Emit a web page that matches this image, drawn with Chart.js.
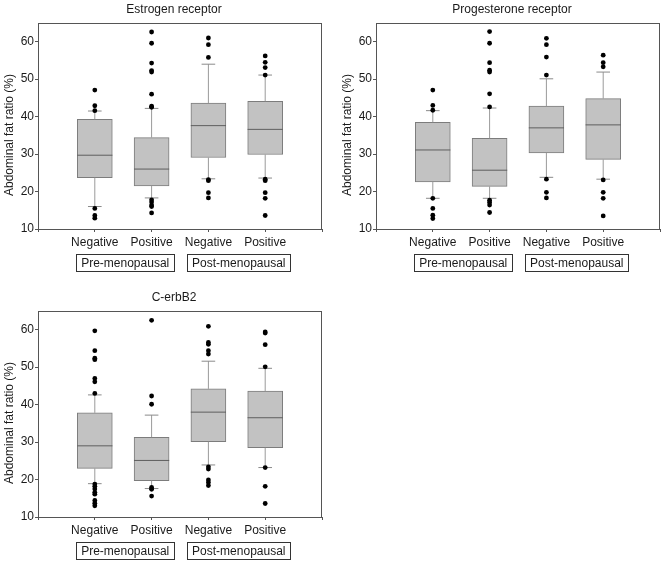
<!DOCTYPE html>
<html>
<head>
<meta charset="utf-8">
<script src="https://cdn.jsdelivr.net/npm/chart.js@4"></script>
<style>
  body { margin: 0; background: #fff; width: 671px; height: 564px; position: relative; overflow: hidden; }
  .panel { position: absolute; width: 335px; height: 280px; }
</style>
</head>
<body>
<div class="panel" style="left:0;top:0"><canvas id="c1"></canvas></div>
<div class="panel" style="left:338px;top:0"><canvas id="c2"></canvas></div>
<div class="panel" style="left:0;top:288px"><canvas id="c3"></canvas></div>
<script>
// groups along the x axis
const groupLabels = ['Negative', 'Positive', 'Negative', 'Positive'];
const statusLabels = ['Pre-menopausal', 'Post-menopausal'];
const yTicks = [10, 20, 30, 40, 50, 60];
const yAxisTitle = 'Abdominal fat ratio (%)';

// Estrogen receptor: [lower whisker, q1, median, q3, upper whisker] per group
const erTitle = 'Estrogen receptor';
const erStats = [
  [16.0, 23.7, 29.7, 39.3, 41.5],
  [18.3, 21.5, 26.0, 34.4, 42.2],
  [23.4, 29.1, 37.6, 43.6, 54.0],
  [23.6, 29.9, 36.6, 44.1, 51.1]
];
const erOutliers = [
  [47.1, 42.9, 41.6, 15.5, 13.6, 12.9],
  [62.6, 59.6, 54.3, 52.3, 51.9, 46.0, 42.8, 42.5, 17.8, 17.2, 16.4, 16.0, 14.3],
  [61.0, 59.2, 55.8, 23.2, 22.9, 19.7, 18.3],
  [56.2, 54.5, 53.1, 51.1, 23.3, 22.9, 19.7, 18.2, 13.6]
];

// Progesterone receptor
const prTitle = 'Progesterone receptor';
const prStats = [
  [18.2, 22.6, 31.1, 38.5, 41.6],
  [18.2, 21.4, 25.7, 34.2, 42.3],
  [23.8, 30.3, 37.0, 42.8, 50.1],
  [23.3, 28.6, 37.8, 44.8, 51.9]
];
const prOutliers = [
  [47.1, 43.0, 41.7, 18.2, 15.5, 13.7, 12.8],
  [62.7, 59.6, 54.4, 52.4, 51.9, 46.1, 42.6, 17.7, 17.1, 16.4, 14.4],
  [60.9, 59.2, 55.9, 51.1, 23.3, 19.8, 18.3],
  [56.4, 54.4, 53.3, 23.1, 19.8, 18.2, 13.5]
];

// C-erbB2
const cbTitle = 'C-erbB2';
const cbStats = [
  [18.9, 23.0, 29.0, 37.8, 42.6],
  [17.6, 19.7, 25.1, 31.3, 37.2],
  [23.9, 30.1, 38.0, 44.2, 51.6],
  [23.2, 28.5, 36.5, 43.6, 49.7]
];
const cbOutliers = [
  [59.7, 54.4, 52.4, 52.0, 47.0, 46.1, 43.0, 18.8, 18.2, 17.5, 16.6, 16.1, 14.4, 13.7, 13.0],
  [62.5, 42.3, 40.1, 17.9, 17.4, 15.6],
  [60.9, 56.6, 56.1, 54.4, 53.5, 23.4, 22.8, 19.9, 19.2, 18.4],
  [59.4, 59.1, 56.0, 50.1, 23.2, 18.2, 13.6]
];

const FONT = '"Liberation Sans", Arial, sans-serif';
const TEXT = '#1a1a1a';

// frame, y title and the boxed menopausal status labels
const decor = {
  id: 'decor',
  afterDraw(chart, args, opts) {
    const { ctx, chartArea: a, scales } = chart;
    ctx.save();
    ctx.strokeStyle = '#555';
    ctx.lineWidth = 1;
    ctx.strokeRect(a.left + 0.5, a.top + 0.5, a.right - a.left - 1, a.bottom - a.top);

    ctx.fillStyle = TEXT;
    ctx.font = '12px ' + FONT;
    ctx.textAlign = 'center';
    ctx.textBaseline = 'middle';
    ctx.fillText(opts.title, (a.left + a.right) / 2 - 6, 10);

    ctx.save();
    ctx.translate(10, (a.top + a.bottom) / 2 + 9);
    ctx.rotate(-Math.PI / 2);
    ctx.fillText(yAxisTitle, 0, 0);
    ctx.restore();

    statusLabels.forEach((lab, i) => {
      const cx = scales.x.getPixelForValue(1.5 + 2 * i) + 2;
      const w = ctx.measureText(lab).width + 10;
      const cy = a.bottom + 34;
      ctx.strokeStyle = '#333';
      ctx.strokeRect(Math.round(cx - w / 2) + 0.5, cy - 8.5, Math.round(w), 17);
      ctx.fillText(lab, cx, cy + 0.5);
    });
    ctx.restore();
  }
};

function makeChart(id, title, stats, outliers) {
  const halfBox = 0.31, halfCap = 0.12;
  const boxes = stats.map((s, i) => ({ x: i + 1, y: [s[1], s[3]] }));
  const medians = [], stems = [], caps = [], points = [];
  stats.forEach((s, i) => {
    const x = i + 1;
    medians.push({ x: x - halfBox, y: s[2] }, { x: x + halfBox, y: s[2] }, { x: x, y: null });
    stems.push({ x: x, y: s[0] }, { x: x, y: s[1] }, { x: x, y: null });
    stems.push({ x: x, y: s[3] }, { x: x, y: s[4] }, { x: x, y: null });
    caps.push({ x: x - halfCap, y: s[0] }, { x: x + halfCap, y: s[0] }, { x: x, y: null });
    caps.push({ x: x - halfCap, y: s[4] }, { x: x + halfCap, y: s[4] }, { x: x, y: null });
    outliers[i].forEach(v => points.push({ x: x, y: v }));
  });

  const lineDs = (data, color, order) => ({
    type: 'line', data, borderColor: color, borderWidth: 1, pointRadius: 0,
    spanGaps: false, fill: false, order
  });

  return new Chart(document.getElementById(id), {
    type: 'bar',
    data: {
      datasets: [
        { type: 'scatter', data: points, pointRadius: 2.4, pointBackgroundColor: '#000',
          pointBorderWidth: 0, order: 0 },
        lineDs(medians, '#5e5e5e', 1),
        lineDs(caps, '#8a8a8a', 2),
        lineDs(stems, '#9a9a9a', 3),
        { type: 'bar', data: boxes, backgroundColor: '#c2c2c2', borderColor: '#7c7c7c',
          borderWidth: 1, borderSkipped: false, barThickness: 35, order: 4 }
      ]
    },
    options: {
      responsive: false,
      animation: false,
      layout: { padding: { top: 23, right: 13, left: 0, bottom: 0 } },
      plugins: { legend: { display: false }, tooltip: { enabled: false }, decor: { title } },
      scales: {
        x: {
          type: 'linear', min: 0, max: 5, offset: false,
          afterBuildTicks: s => { s.ticks = [0, 1, 2, 3, 4, 5].map(v => ({ value: v })); },
          afterFit: s => { s.height = 51; },
          grid: { display: true, drawOnChartArea: false, tickLength: 3, color: '#555', offset: false },
          border: { display: true, color: '#555' },
          ticks: {
            autoSkip: false, maxRotation: 0, padding: 3, color: TEXT,
            font: { family: FONT, size: 12 },
            callback: v => groupLabels[v - 1] || ''
          }
        },
        y: {
          min: 10, max: 65,
          afterBuildTicks: s => { s.ticks = yTicks.map(v => ({ value: v })); },
          afterFit: s => { s.width = 38; },
          grid: { display: true, drawOnChartArea: false, tickLength: 3, color: '#555' },
          border: { display: true, color: '#555' },
          ticks: { padding: 1, color: TEXT, font: { family: FONT, size: 12 } }
        }
      }
    },
    plugins: [decor]
  });
}

function sizeCanvas(id) {
  const c = document.getElementById(id);
  c.width = 335; c.height = 280;
  c.style.width = '335px'; c.style.height = '280px';
}
['c1', 'c2', 'c3'].forEach(sizeCanvas);

makeChart('c1', erTitle, erStats, erOutliers);
makeChart('c2', prTitle, prStats, prOutliers);
makeChart('c3', cbTitle, cbStats, cbOutliers);
</script>
</body>
</html>
